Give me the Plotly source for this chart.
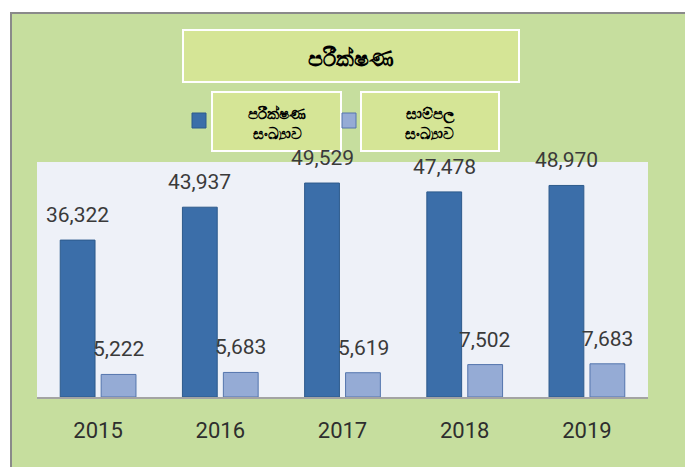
import plotly.graph_objects as go

years = ["2015", "2016", "2017", "2018", "2019"]
tests = [36322, 43937, 49529, 47478, 48970]
samples = [5222, 5683, 5619, 7502, 7683]
title_text = "පරීක්ෂණ"
series_names = ["පරීක්ෂණ<br>සංඛ්‍යාව", "සාම්පල<br>සංඛ්‍යාව"]

W, H = 685, 467
L, R, T, B = 37, 37, 162, 70
PW, PH = W - L - R, H - T - B

def px(x):
    return (x - L) / PW

def py(y):
    return (H - B - y) / PH

dark = "#3b6ea9"
dark_line = "#2d5a8c"
light = "#95abd5"
light_line = "#5475ad"
green = "#c6de9e"
box_fill = "#d5e596"
plot_bg = "#eef1f8"
label_font = "Roboto, Liberation Sans, sans-serif"

fig = go.Figure()
fig.add_trace(go.Bar(x=years, y=tests, name=series_names[0], marker=dict(color=dark, line=dict(color=dark_line, width=1))))
fig.add_trace(go.Bar(x=years, y=samples, name=series_names[1], marker=dict(color=light, line=dict(color=light_line, width=1))))

annotations = []
for vals, shift in ((tests, -20.5), (samples, 20.5)):
    for i, v in enumerate(vals):
        annotations.append(dict(x=i, y=v, xref="x", yref="y", text=f"{v:,}", showarrow=False,
                                xshift=shift, yshift=11, yanchor="bottom",
                                font=dict(family=label_font, size=21, color="#3a3a3a")))

shapes = [
    dict(type="rect", xref="paper", yref="paper", x0=px(11), x1=px(700), y0=py(480), y1=py(13),
         fillcolor=green, line=dict(color="#8a8a8a", width=2), layer="below"),
    dict(type="rect", xref="paper", yref="paper", x0=0, x1=1, y0=0, y1=py(162),
         fillcolor=plot_bg, line=dict(width=0), layer="below"),
    dict(type="rect", xref="paper", yref="paper", x0=px(183), x1=px(519), y0=py(82), y1=py(30),
         fillcolor=box_fill, line=dict(color="white", width=2), layer="above"),
    dict(type="rect", xref="paper", yref="paper", x0=px(212), x1=px(341), y0=py(151), y1=py(92),
         fillcolor=box_fill, line=dict(color="white", width=2), layer="above"),
    dict(type="rect", xref="paper", yref="paper", x0=px(361), x1=px(499), y0=py(151), y1=py(92),
         fillcolor=box_fill, line=dict(color="white", width=2), layer="above"),
    dict(type="rect", xref="paper", yref="paper", x0=px(192), x1=px(206), y0=py(128), y1=py(113),
         fillcolor=dark, line=dict(color=dark_line, width=1), layer="above"),
    dict(type="rect", xref="paper", yref="paper", x0=px(342), x1=px(356), y0=py(128), y1=py(113),
         fillcolor=light, line=dict(color=light_line, width=1), layer="above"),
]

annotations.append(dict(x=px(351), y=py(56), xref="paper", yref="paper", text=f"<b>{title_text}</b>",
                        showarrow=False, yshift=16,
                        font=dict(size=22, color="black", family="Noto Sans, sans-serif")))
annotations.append(dict(x=px(276.5), y=py(121), xref="paper", yref="paper", text=f"<b>{series_names[0]}</b>",
                        showarrow=False, yshift=20,
                        font=dict(size=15, color="black", family="Noto Sans, sans-serif")))
annotations.append(dict(x=px(430), y=py(121), xref="paper", yref="paper", text=f"<b>{series_names[1]}</b>",
                        showarrow=False, yshift=20,
                        font=dict(size=15, color="black", family="Noto Sans, sans-serif")))

fig.update_layout(
    width=W, height=H,
    margin=dict(l=L, r=R, t=T, b=B, pad=0),
    paper_bgcolor="white", plot_bgcolor=plot_bg,
    barmode="group", bargap=0.33, bargroupgap=0.15,
    showlegend=False,
    shapes=shapes, annotations=annotations,
    xaxis=dict(type="category", range=[-0.5, 4.5], showgrid=False, showline=True, linecolor="#a3a3a3",
               linewidth=2, ticks="", ticklabelstandoff=13,
               tickfont=dict(family=label_font, size=22, color="#2e2e2e")),
    yaxis=dict(range=[0, 54400], visible=False, showgrid=False),
)

fig.write_html("out.html", config={"displayModeBar": False},
               post_script="document.body.style.margin='0';document.body.style.overflow='hidden';")
